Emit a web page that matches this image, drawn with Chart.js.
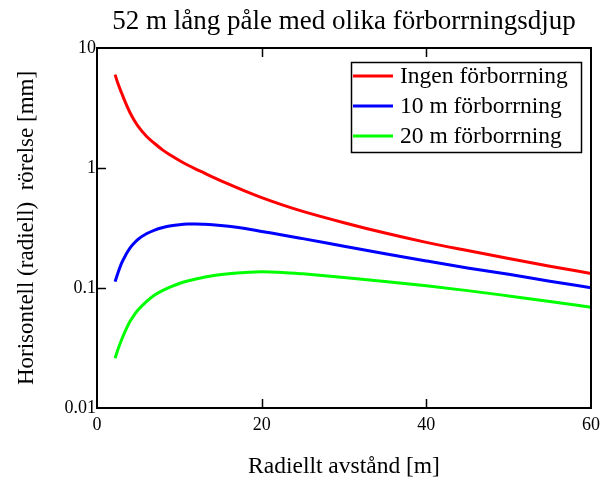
<!DOCTYPE html>
<html>
<head>
<meta charset="utf-8">
<script src="https://cdn.jsdelivr.net/npm/chart.js@4"></script>
<style>
  body { margin: 0; background: #fff; }
  canvas { display: block; }
</style>
</head>
<body>
<canvas id="pile" width="606" height="482"></canvas>
<script>
// radial distance [m]
var distance = [2.2, 2.5, 3, 3.5, 4, 4.5, 5, 6, 7, 8, 9, 10, 11, 12, 13, 14, 16, 18, 20, 22.5, 25, 30, 35, 40, 45, 50, 55, 60]
// horizontal movement [mm]
var ingen  = [6.0, 5.15, 4.2, 3.45, 2.9, 2.51, 2.22, 1.84, 1.6, 1.41, 1.27, 1.156, 1.059, 0.979, 0.91, 0.845, 0.733, 0.641, 0.566, 0.493, 0.435, 0.35, 0.287, 0.24, 0.205, 0.176, 0.152, 0.132]
var tioM   = [0.113, 0.131, 0.162, 0.189, 0.215, 0.236, 0.255, 0.283, 0.304, 0.319, 0.33, 0.337, 0.341, 0.342, 0.34, 0.337, 0.327, 0.313, 0.296, 0.277, 0.258, 0.223, 0.193, 0.168, 0.147, 0.13, 0.114, 0.1005]
var tjugoM = [0.026, 0.0302, 0.0372, 0.0447, 0.0525, 0.0593, 0.0658, 0.0771, 0.0875, 0.0955, 0.1026, 0.109, 0.1143, 0.1189, 0.1227, 0.1265, 0.1315, 0.1349, 0.1365, 0.1349, 0.1312, 0.1225, 0.1132, 0.1042, 0.0951, 0.0859, 0.0773, 0.0692]

var seriesNames = ["Ingen förborrning", "10 m förborrning", "20 m förborrning"]
var yTicks = [0.01, 0.1, 1, 10]
var yTickLabels = ["0.01", "0.1", "1", "10"]
var xTicks = [0, 20, 40, 60]

var serif = "'Liberation Serif', 'DejaVu Serif', serif"

function pts(ys) {
  return distance.map(function (x, i) { return { x: x, y: ys[i] } })
}

// frame, inward tick marks, title and legend box
var decor = {
  id: 'decor',
  afterDraw: function (chart) {
    var ctx = chart.ctx
    var a = chart.chartArea
    var xs = chart.scales.x, ys = chart.scales.y
    ctx.save()
    ctx.strokeStyle = '#000'
    ctx.lineWidth = 2
    ctx.strokeRect(a.left, a.top, a.right - a.left, a.bottom - a.top)

    ctx.lineWidth = 1.5
    ctx.beginPath()
    ;[0.1, 1].forEach(function (v) {
      var y = Math.round(ys.getPixelForValue(v)) + 0.5
      ctx.moveTo(a.left, y); ctx.lineTo(a.left + 9, y)
    })
    ;[20, 40].forEach(function (v) {
      var x = Math.round(xs.getPixelForValue(v)) + 0.5
      ctx.moveTo(x, a.bottom); ctx.lineTo(x, a.bottom - 9)
      ctx.moveTo(x, a.top); ctx.lineTo(x, a.top + 9)
    })
    ctx.stroke()

    ctx.fillStyle = '#000'
    ctx.font = '27px ' + serif
    ctx.textAlign = 'center'
    ctx.textBaseline = 'middle'
    ctx.fillText("52 m lång påle med olika förborrningsdjup", (a.left + a.right) / 2, 22)

    // legend
    var bx = 351, by = 62, bw = 230, bh = 90
    ctx.strokeStyle = '#000'
    ctx.lineWidth = 1.5
    ctx.strokeRect(bx + 0.5, by + 0.5, bw, bh)
    ctx.font = '23.5px ' + serif
    ctx.textAlign = 'left'
    chart.data.datasets.forEach(function (ds, i) {
      var y = by + 14 + i * 30
      ctx.strokeStyle = ds.borderColor
      ctx.lineWidth = 3
      ctx.beginPath()
      ctx.moveTo(bx + 2, y); ctx.lineTo(bx + 42, y)
      ctx.stroke()
      ctx.fillText(ds.label, bx + 49, y + 1)
    })
    ctx.restore()
  }
}

new Chart(document.getElementById('pile'), {
  type: 'line',
  data: {
    datasets: [
      { label: seriesNames[0], data: pts(ingen), borderColor: '#ff0000' },
      { label: seriesNames[1], data: pts(tioM), borderColor: '#0000ff' },
      { label: seriesNames[2], data: pts(tjugoM), borderColor: '#00ff00' }
    ]
  },
  options: {
    responsive: false,
    animation: false,
    layout: { padding: { top: 48, right: 11, left: 0, bottom: 0 } },
    elements: {
      line: { borderWidth: 3, cubicInterpolationMode: 'monotone', fill: false },
      point: { radius: 0 }
    },
    plugins: { legend: { display: false }, tooltip: { enabled: false } },
    scales: {
      x: {
        type: 'linear', min: 0, max: 60,
        afterBuildTicks: function (s) { s.ticks = xTicks.map(function (v) { return { value: v } }) },
        afterFit: function (s) { s.height = 74 },
        grid: { display: false, drawTicks: false, tickLength: 0 },
        border: { display: false },
        ticks: { color: '#000', font: { family: serif, size: 18 }, padding: 6, maxRotation: 0 },
        title: {
          display: true, text: 'Radiellt avstånd [m]', color: '#000',
          font: { family: serif, size: 23.5 }, padding: { top: 0, bottom: 1 }
        }
      },
      y: {
        type: 'logarithmic', min: 0.01, max: 10,
        afterBuildTicks: function (s) { s.ticks = yTicks.map(function (v) { return { value: v } }) },
        afterFit: function (s) { s.width = 97 },
        grid: { display: false, drawTicks: false, tickLength: 0 },
        border: { display: false },
        ticks: {
          color: '#000', font: { family: serif, size: 18 }, padding: 1,
          callback: function (v) { return yTickLabels[yTicks.indexOf(v)] }
        },
        title: {
          display: true, text: 'Horisontell (radiell)  rörelse [mm]', color: '#000',
          font: { family: serif, size: 23 }, padding: { top: 13, bottom: 0 }
        }
      }
    }
  },
  plugins: [decor]
})
</script>
</body>
</html>
